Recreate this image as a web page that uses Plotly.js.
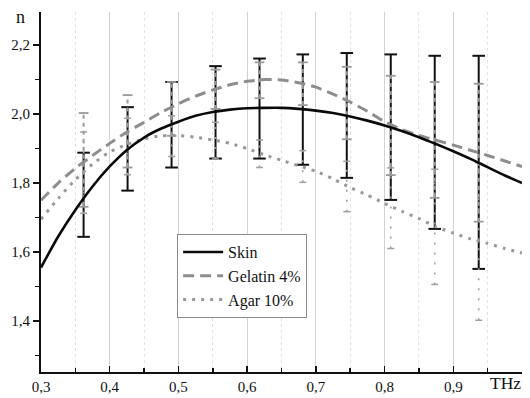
<!DOCTYPE html>
<html>
<head>
<meta charset="utf-8">
<script src="https://cdn.plot.ly/plotly-3.0.1.min.js"></script>
<style>html,body{margin:0;padding:0;background:#fff;}#chart{width:530px;height:398px;}</style>
</head>
<body>
<div id="chart"></div>
<script>
// Frequency samples (THz) for the fitted curves
const freq = [0.300,0.325,0.350,0.375,0.400,0.425,0.450,0.475,0.500,0.525,0.550,0.575,0.600,0.625,0.650,0.675,0.700,0.725,0.750,0.775,0.800,0.825,0.850,0.875,0.900,0.925,0.950,0.975,1.000];
const skinN    = [1.555,1.645,1.722,1.790,1.848,1.896,1.932,1.958,1.978,1.995,2.006,2.013,2.017,2.018,2.018,2.015,2.010,2.003,1.993,1.981,1.967,1.951,1.933,1.913,1.892,1.870,1.846,1.822,1.800];
const gelatinN = [1.750,1.800,1.843,1.880,1.915,1.948,1.976,2.005,2.030,2.052,2.070,2.085,2.095,2.100,2.099,2.091,2.078,2.058,2.035,2.008,1.978,1.955,1.938,1.924,1.910,1.895,1.880,1.864,1.848];
const agarN    = [1.695,1.755,1.810,1.855,1.890,1.912,1.928,1.937,1.938,1.933,1.925,1.915,1.900,1.882,1.866,1.850,1.834,1.812,1.787,1.765,1.741,1.718,1.697,1.673,1.655,1.638,1.625,1.610,1.597];

// Measured points with error bars
const barFreq   = [0.362,0.426,0.490,0.554,0.618,0.681,0.745,0.809,0.873,0.937];
const skinMean  = [1.766,1.899,1.969,2.005,2.016,2.013,1.996,1.962,1.918,1.860];
const skinErr   = [0.122,0.121,0.124,0.134,0.145,0.160,0.181,0.211,0.251,0.309];
const gelMean   = [1.867,1.950,2.015,2.072,2.098,2.088,2.032,1.967,1.925,1.888];
const gelErr    = [0.136,0.105,0.078,0.057,0.052,0.062,0.105,0.144,0.168,0.200];
const agarMean  = [1.830,1.906,1.936,1.923,1.885,1.848,1.790,1.727,1.673,1.630];
const agarErr   = [0.118,0.082,0.059,0.053,0.040,0.046,0.073,0.117,0.167,0.228];

// Axis ticks
const xTickVals = [0.3,0.4,0.5,0.6,0.7,0.8,0.9];
const xTickText = ["0,3","0,4","0,5","0,6","0,7","0,8","0,9"];
const xMinorVals = [0.35,0.45,0.55,0.65,0.75,0.85,0.95];
const yTickVals = [1.4,1.6,1.8,2.0,2.2];
const yTickText = ["1,4","1,6","1,8","2,0","2,2"];
const yMinorVals = [1.3,1.5,1.7,1.9,2.1];

const seriesNames = ["Skin","Gelatin 4%","Agar 10%"];

function barTraces(means, errs, color, width, dash, capSize, capWidth) {
  const xs = [], ys = [], cx = [], cy = [];
  barFreq.forEach((bx, i) => {
    const lo = means[i] - errs[i], hi = means[i] + errs[i];
    xs.push(bx, bx, null); ys.push(lo, hi, null);
    cx.push(bx, bx); cy.push(lo, hi);
  });
  return [
    {type:'scatter', mode:'lines', x:xs, y:ys, line:{color:color, width:width, dash:dash},
     showlegend:false, hoverinfo:'skip', connectgaps:false},
    {type:'scatter', mode:'markers', x:cx, y:cy, showlegend:false, hoverinfo:'skip',
     marker:{symbol:'line-ew', size:capSize, color:color, line:{color:color, width:capWidth}}}
  ];
}

const traces = [];
traces.push(...barTraces(skinMean, skinErr, '#111111', 2, 'solid', 9, 2));
traces.push(...barTraces(gelMean, gelErr, '#9a9a9a', 2, '4px,4px', 7, 1.8));
traces.push(...barTraces(agarMean, agarErr, '#a0a0a0', 1.6, '2px,8px', 5, 1.5));

traces.push({type:'scatter', mode:'lines', name:seriesNames[2], x:freq, y:agarN,
  line:{color:'#999999', width:3, dash:'3px,6px', shape:'spline', smoothing:0.6}});
traces.push({type:'scatter', mode:'lines', name:seriesNames[1], x:freq, y:gelatinN,
  line:{color:'#8e8e8e', width:3, dash:'11px,6px', shape:'spline', smoothing:0.6}});
traces.push({type:'scatter', mode:'lines', name:seriesNames[0], x:freq, y:skinN,
  line:{color:'#0a0a0a', width:2.6, shape:'spline', smoothing:0.6}});

const serif = "Liberation Serif, Times New Roman, serif";
const layout = {
  width:530, height:398,
  margin:{l:41, r:8, t:12, b:26},
  paper_bgcolor:'#ffffff', plot_bgcolor:'#ffffff',
  font:{family:serif, color:'#111', size:15},
  showlegend:true,
  legend:{x:0.283, y:0.383, xanchor:'left', yanchor:'top', bgcolor:'#ffffff',
    bordercolor:'#8a8a8a', borderwidth:1, font:{family:serif, size:16, color:'#111'},
    itemwidth:40, traceorder:'reversed', tracegroupgap:0},
  xaxis:{range:[0.3,1.0], tickmode:'array', tickvals:xTickVals, ticktext:xTickText,
    ticks:'inside', ticklen:6, tickwidth:1.5, tickcolor:'#111',
    showline:true, linecolor:'#111', linewidth:2, zeroline:false,
    showgrid:true, gridcolor:'#d2d2d2', gridwidth:1,
    tickfont:{family:serif, size:15, color:'#111'},
    minor:{tickmode:'array', tickvals:xMinorVals, ticks:'inside', ticklen:4, tickwidth:1.5, tickcolor:'#111',
      showgrid:true, gridcolor:'#e2e2e2', gridwidth:1, griddash:'dot'}},
  yaxis:{range:[1.252,2.296], tickmode:'array', tickvals:yTickVals, ticktext:yTickText,
    ticks:'outside', ticklen:6, tickwidth:1.5, tickcolor:'#111',
    showline:true, linecolor:'#111', linewidth:2, zeroline:false, showgrid:false,
    tickfont:{family:serif, size:15, color:'#111'},
    minor:{tickmode:'array', tickvals:yMinorVals, ticks:'outside', ticklen:4, tickwidth:1.5, tickcolor:'#111', showgrid:false}},
  annotations:[
    {text:'THz', xref:'paper', yref:'paper', x:0.965, y:-0.031, xanchor:'center', yanchor:'middle',
     showarrow:false, font:{family:serif, size:17.5, color:'#111'}},
    {text:'n', xref:'paper', yref:'paper', x:-0.043, y:0.985, xanchor:'center', yanchor:'middle',
     showarrow:false, font:{family:serif, size:18, color:'#111'}}
  ]
};

Plotly.newPlot('chart', traces, layout, {displayModeBar:false, staticPlot:true});
</script>
</body>
</html>
